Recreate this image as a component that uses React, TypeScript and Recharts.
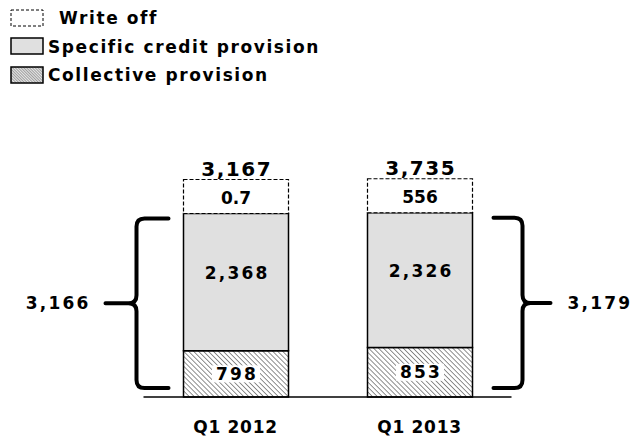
import React from 'react';
import { BarChart, Bar, XAxis, YAxis, Legend, LabelList } from 'recharts';

// ---- data ----
const quarters = ['Q1 2012', 'Q1 2013'];
const collectiveProvision = [798, 853];
const specificProvision = [2368, 2326];
const writeOffValues = [0.7, 556];

const seriesNames = {
  writeOff: 'Write off',
  specific: 'Specific credit provision',
  collective: 'Collective provision',
};
const legendOrder = ['writeOff', 'specific', 'collective'];

const data = quarters.map((q, i) => ({
  quarter: q,
  collective: collectiveProvision[i],
  specific: specificProvision[i],
  writeOff: writeOffValues[i],
  provisions: collectiveProvision[i] + specificProvision[i],
  total: collectiveProvision[i] + specificProvision[i] + writeOffValues[i],
}));

// ---- styles ----
const FONT = "'DejaVu Sans', Verdana, sans-serif";
const fmtInt = (v: number) => Math.round(v).toLocaleString('en-US');
const LS = 2.2;

const SpecificLabel = (p: any) => {
  const { x, y, width, height, value } = p;
  const cx = x + width / 2;
  const cy = y + height / 2 - 9;
  return (
    <text x={cx} y={cy} dx={LS / 2} textAnchor="middle" dominantBaseline="central"
      fontFamily={FONT} fontWeight="bold" fontSize={17} letterSpacing={LS} fill="#000">
      {fmtInt(value)}
    </text>
  );
};

const CollectiveLabel = (p: any) => {
  const { x, y, width, height, value } = p;
  const cx = x + width / 2;
  const cy = y + height / 2;
  return (
    <g>
      <rect x={cx - 24} y={cy - 8.5} width={48} height={17} fill="#fff" />
      <text x={cx} y={cy} dx={LS / 2} textAnchor="middle" dominantBaseline="central"
        fontFamily={FONT} fontWeight="bold" fontSize={17} letterSpacing={LS} fill="#000">
        {fmtInt(value)}
      </text>
    </g>
  );
};

const WriteOffLabel = (p: any) => {
  const { x, y, width, value } = p;
  return (
    <text x={x + width / 2} y={y + 18} textAnchor="middle" dominantBaseline="central"
      fontFamily={FONT} fontWeight="bold" fontSize={17} fill="#000">
      {String(value)}
    </text>
  );
};

const TotalLabel = (p: any) => {
  const { x, y, width, value } = p;
  return (
    <text x={x + width / 2} y={y - 11} dx={0.75} textAnchor="middle" dominantBaseline="central"
      fontFamily={FONT} fontWeight="bold" fontSize={20} letterSpacing={1.5} fill="#000">
      {fmtInt(value)}
    </text>
  );
};

const BraceShape = (p: any) => {
  const { x, y, width, height, index, value } = p;
  const v = Array.isArray(value) ? value[1] - value[0] : value;
  const top = y + 5;
  const bottom = y + height - 9;
  const mid = (top + bottom) / 2;
  const r = 8;
  if (index === 0) {
    const vx = x - 47;
    const hx = x - 15;
    const stem = x - 78;
    const d = `M ${hx} ${top} L ${vx + r} ${top} Q ${vx} ${top} ${vx} ${top + r} L ${vx} ${mid - r} Q ${vx} ${mid} ${vx - r} ${mid} Q ${vx} ${mid} ${vx} ${mid + r} L ${vx} ${bottom - r} Q ${vx} ${bottom} ${vx + r} ${bottom} L ${hx} ${bottom} M ${vx - r} ${mid} L ${stem} ${mid}`;
    return (
      <g>
        <path d={d} fill="none" stroke="#000" strokeWidth={4} strokeLinecap="round" strokeLinejoin="round" />
        <text x={stem - 15} y={mid} textAnchor="end" dominantBaseline="central"
          fontFamily={FONT} fontWeight="bold" fontSize={17} letterSpacing={LS} fill="#000">
          {fmtInt(v)}
        </text>
      </g>
    );
  }
  const right = x + width;
  const vx = right + 50;
  const hx = right + 21;
  const stem = right + 78;
  const d = `M ${hx} ${top} L ${vx - r} ${top} Q ${vx} ${top} ${vx} ${top + r} L ${vx} ${mid - r} Q ${vx} ${mid} ${vx + r} ${mid} Q ${vx} ${mid} ${vx} ${mid + r} L ${vx} ${bottom - r} Q ${vx} ${bottom} ${vx - r} ${bottom} L ${hx} ${bottom} M ${vx + r} ${mid} L ${stem} ${mid}`;
  return (
    <g>
      <path d={d} fill="none" stroke="#000" strokeWidth={4} strokeLinecap="round" strokeLinejoin="round" />
      <text x={stem + 17} y={mid} textAnchor="start" dominantBaseline="central"
        fontFamily={FONT} fontWeight="bold" fontSize={17} letterSpacing={LS} fill="#000">
        {fmtInt(v)}
      </text>
    </g>
  );
};

const QuarterTick = (p: any) => {
  const { x, payload } = p;
  return (
    <text x={x} y={397 + 36} textAnchor="middle" fontFamily={FONT} fontWeight="bold"
      fontSize={17} letterSpacing={0.7} fill="#000">
      {payload.value}
    </text>
  );
};

const Swatch = ({ k }: { k: string }) => {
  if (k === 'writeOff') {
    return (
      <svg width={35} height={19} style={{ display: 'block' }}>
        <rect x={1} y={1} width={32} height={16} fill="#fff" stroke="#000" strokeWidth={1} strokeDasharray="3 2" />
      </svg>
    );
  }
  if (k === 'specific') {
    return (
      <svg width={35} height={19} style={{ display: 'block' }}>
        <rect x={1} y={1} width={32} height={16} fill="#E0E0E0" stroke="#000" strokeWidth={1.5} />
      </svg>
    );
  }
  return (
    <svg width={35} height={19} style={{ display: 'block' }}>
      <defs>
        <pattern id="legendHatch" width={2} height={2} patternUnits="userSpaceOnUse" patternTransform="rotate(-45)">
          <rect width={2} height={2} fill="#e8e8e8" />
          <line x1={0} y1={0} x2={0} y2={2} stroke="#555" strokeWidth={1} />
        </pattern>
      </defs>
      <rect x={1} y={1} width={32} height={16} fill="url(#legendHatch)" stroke="#000" strokeWidth={1.5} />
    </svg>
  );
};

const LegendContent = () => (
  <div style={{ fontFamily: FONT, fontWeight: 'bold', fontSize: 17, color: '#000' }}>
    {legendOrder.map((k, i) => (
      <div key={k} style={{ display: 'flex', alignItems: 'center', height: 28.5, whiteSpace: 'nowrap' }}>
        <Swatch k={k} />
        <span style={{ paddingLeft: i === 0 ? 14 : 3, letterSpacing: 1.6 }}>{(seriesNames as any)[k]}</span>
      </div>
    ))}
  </div>
);

export default function App() {
  return (
    <div style={{ position: 'absolute', left: 0, top: 0, width: 640, height: 439, background: '#fff' }}>
      <BarChart width={640} height={439} data={data}
        margin={{ top: 0, right: 128.5, left: 143.5, bottom: 0 }}>
        <defs>
          <pattern id="collectiveHatch" width={3.5} height={3.5} patternUnits="userSpaceOnUse" patternTransform="rotate(-45)">
            <rect width={3.5} height={3.5} fill="#fff" />
            <line x1={0} y1={0} x2={0} y2={3.5} stroke="#333" strokeWidth={1.1} />
          </pattern>
        </defs>
        <Legend layout="vertical" align="center" verticalAlign="middle"
          wrapperStyle={{ left: 10, top: 4, width: 360, height: 90 }}
          content={<LegendContent />} />
        <YAxis hide domain={[0, 6850]} />
        <XAxis dataKey="quarter" axisLine={{ stroke: '#000', strokeWidth: 1.5 }} tickLine={false}
          tickSize={0} height={42} tick={<QuarterTick />} interval={0} />
        <XAxis xAxisId="brace" dataKey="quarter" hide />
        <Bar dataKey="provisions" xAxisId="brace" barSize={105} shape={<BraceShape />}
          legendType="none" isAnimationActive={false} />
        <Bar dataKey="collective" name={seriesNames.collective} stackId="a" barSize={105}
          fill="url(#collectiveHatch)" stroke="#000" strokeWidth={1.5} isAnimationActive={false}>
          <LabelList dataKey="collective" content={<CollectiveLabel />} />
        </Bar>
        <Bar dataKey="specific" name={seriesNames.specific} stackId="a" barSize={105}
          fill="#E0E0E0" stroke="#000" strokeWidth={1.5} isAnimationActive={false}>
          <LabelList dataKey="specific" content={<SpecificLabel />} />
        </Bar>
        <Bar dataKey="writeOff" name={seriesNames.writeOff} stackId="a" barSize={105} minPointSize={34}
          fill="#fff" stroke="#000" strokeWidth={1.2} strokeDasharray="4 2" isAnimationActive={false}>
          <LabelList dataKey="writeOff" content={<WriteOffLabel />} />
          <LabelList dataKey="total" content={<TotalLabel />} />
        </Bar>
      </BarChart>
    </div>
  );
}
